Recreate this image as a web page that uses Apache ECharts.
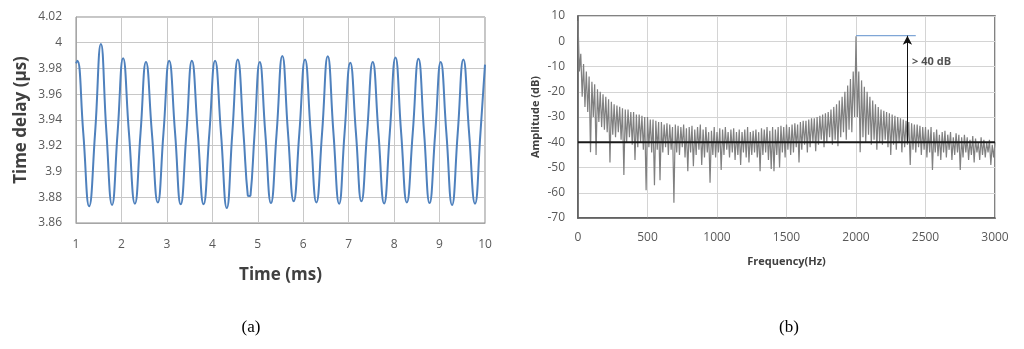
<!DOCTYPE html>
<html><head><meta charset="utf-8">
<script src="https://cdn.jsdelivr.net/npm/echarts@6/dist/echarts.min.js"></script>
<style>html,body{margin:0;padding:0;background:#fff}#c{width:1024px;height:349px}</style>
</head><body><div id="c"></div>
<script>
// ---- Panel (a): time delay vs time ----
const timeMs = [1.00,1.03,1.16,1.289,1.42,1.548,1.67,1.793,1.915,2.037,2.165,2.296,2.42,2.54,2.67,2.80,2.925,3.05,3.18,3.304,3.43,3.55,3.68,3.807,3.935,4.06,4.19,4.318,4.44,4.56,4.685,4.78,4.81,4.84,4.93,5.044,5.165,5.29,5.415,5.54,5.665,5.79,5.915,6.04,6.165,6.29,6.415,6.54,6.665,6.79,6.91,7.035,7.16,7.28,7.405,7.53,7.655,7.78,7.905,8.03,8.155,8.28,8.41,8.536,8.66,8.78,8.905,9.026,9.15,9.275,9.40,9.524,9.65,9.78,9.90,10.0];
const delayUs = [3.984,3.986,3.93,3.873,3.93,3.999,3.93,3.874,3.93,3.988,3.93,3.875,3.93,3.985,3.93,3.876,3.93,3.986,3.93,3.8745,3.93,3.986,3.93,3.8745,3.93,3.986,3.93,3.8716,3.93,3.987,3.93,3.8815,3.881,3.8815,3.93,3.985,3.93,3.8755,3.93,3.9898,3.93,3.8768,3.93,3.987,3.93,3.876,3.93,3.9895,3.93,3.875,3.93,3.9844,3.93,3.8768,3.93,3.985,3.93,3.8752,3.93,3.9885,3.93,3.876,3.93,3.9875,3.93,3.8755,3.93,3.985,3.93,3.874,3.93,3.987,3.93,3.875,3.93,3.983];

// ---- Panel (b): spectrum (comb: upper points at even 20 Hz steps, dips in between) ----
const freqStep = 20;
const specHi = [
 8,-5,-9,-12,-14,-16,-17,-19,-20,-21,
 -22,-23,-24,-25,-25.5,-26,-26.5,-27,-27,-28,
 -28,-29,-29,-29.5,-30,-30,-31,-31,-31.5,-32,
 -32,-33,-32.5,-33,-34,-33,-33.5,-34,-33,-34.5,
 -34,-33.5,-35,-34,-33,-35,-34,-36,-35.5,-34,
 -36,-34.5,-35,-34,-36,-35,-34.5,-36,-35,-36,
 -35,-34,-36,-35.5,-35,-36,-34.5,-35,-34,-35.5,
 -34,-35,-34,-33.5,-34,-33,-34,-33,-32.5,-33,
 -32,-31.5,-31.5,-31,-30.5,-30.5,-30,-29.5,-29,-28.5,
 -28,-27,-26,-25,-23.5,-22,-20,-17.5,-15,-12,
 2,-12,-15.5,-18,-20,-22,-23.5,-25,-26,-27,
 -27.5,-28,-28.5,-29,-29.5,-30,-30.5,-31,-31.5,-32,
 -32.5,-33,-33,-33.5,-34,-34,-35,-34,-36,-35,
 -37,-36,-35.5,-37,-36,-38,-36.5,-37,-38,-37,
 -38,-39,-37.5,-38.5,-40,-38,-39,-40,-39,-41,
 -40];
const specLo = [
 -12,-22,-26,-28,-44,-30,-45,-32,-34,-35,
 -36,-48,-37,-38,-36,-39,-53,-40,-38,-41,
 -47,-42,-40,-43,-59,-42,-44,-57,-43,-55,
 -44,-42,-45,-43,-64,-44,-45,-42,-46,-51.5,
 -44,-49.5,-45,-43,-49,-46,-44,-56,-45,-46,
 -44,-51,-45,-43,-46,-44,-47,-45,-49,-44,
 -46,-48,-45,-44,-46,-51.5,-45,-44,-47,-50.6,
 -51.5,-45,-50,-44,-46,-43,-45,-44,-42,-48,
 -43,-41,-44,-42,-40,-43.6,-41,-39,-42,-40,
 -38,-41,-39,-41.6,-38,-36,-39,-35,-36,-30,
 -30,-44,-38,-40,-37,-41,-39,-43,-40,-41,
 -39,-42,-45,-41,-43,-40,-44,-42,-41,-49,
 -43,-44,-42,-45,-43,-46,-44,-51,-44,-45.5,
 -47,-44,-46,-43,-47,-45,-44,-51,-46,-44,
 -47,-45,-48,-44,-47,-45,-46,-44,-49,-46];
const thresholdDb = -40;
const peakDb = 2.2;
const peakFreq = 2000;
const arrowFreq = 2370;
const blueEndFreq = 2430;
const noteFreq = 2400, noteDb = -8;
const noteText = '> 40 dB';

const seriesA = timeMs.map((t, i) => [t, delayUs[i]]);
const seriesB = [];
for (let i = 0; i < specHi.length; i++) {
  seriesB.push([i * freqStep, specHi[i]]);
  if (i < specLo.length) seriesB.push([i * freqStep + freqStep / 2, specLo[i]]);
}

const FONT = '"Open Sans","Noto Sans",sans-serif';
const chart = echarts.init(document.getElementById('c'), null, {renderer: 'canvas'});
chart.setOption({
  animation: false,
  grid: [
    {left: 76, top: 17, width: 409, height: 206, show: true, borderColor: '#8c8c8c', borderWidth: 1},
    {left: 578, top: 16, width: 417, height: 202, show: true, borderColor: '#5a5a5a', borderWidth: 1.5}
  ],
  xAxis: [
    {gridIndex: 0, type: 'value', min: 1, max: 10, interval: 1,
     axisLine: {show: true, onZero: false, lineStyle: {color: '#a6a6a6'}}, axisTick: {show: false},
     axisLabel: {color: '#595959', fontSize: 12, margin: 16, fontFamily: FONT},
     splitLine: {show: true, lineStyle: {color: '#c8c8c8', width: 1}},
     name: 'Time (ms)', nameLocation: 'middle', nameGap: 44,
     nameTextStyle: {fontWeight: 'bold', fontSize: 17, color: '#404040', fontFamily: FONT}},
    {gridIndex: 1, type: 'value', min: 0, max: 3000, interval: 500,
     axisLine: {show: true, onZero: false, lineStyle: {color: '#5a5a5a', width: 1.5}}, axisTick: {show: false},
     axisLabel: {color: '#595959', fontSize: 12, margin: 14, fontFamily: FONT, formatter: v => String(v)},
     splitLine: {show: true, lineStyle: {color: '#d4d4d4', width: 1}},
     name: 'Frequency(Hz)', nameLocation: 'middle', nameGap: 38,
     nameTextStyle: {fontWeight: 'bold', fontSize: 11, color: '#404040', fontFamily: FONT}}
  ],
  yAxis: [
    {gridIndex: 0, type: 'value', min: 3.86, max: 4.02, interval: 0.02,
     axisLine: {show: true, lineStyle: {color: '#a6a6a6'}}, axisTick: {show: false},
     axisLabel: {color: '#595959', fontSize: 12, margin: 14, fontFamily: FONT,
                 formatter: v => String(+v.toFixed(2))},
     splitLine: {show: true, lineStyle: {color: '#c8c8c8', width: 1}},
     name: 'Time delay (µs)', nameLocation: 'middle', nameGap: 46,
     nameTextStyle: {fontWeight: 'bold', fontSize: 17, color: '#404040', fontFamily: FONT}},
    {gridIndex: 1, type: 'value', min: -70, max: 10, interval: 10,
     axisLine: {show: true, lineStyle: {color: '#5a5a5a', width: 1.5}}, axisTick: {show: false},
     axisLabel: {color: '#595959', fontSize: 12, margin: 13, fontFamily: FONT},
     splitLine: {show: true, lineStyle: {color: '#d4d4d4', width: 1}},
     name: 'Amplitude (dB)', nameLocation: 'middle', nameGap: 37,
     nameTextStyle: {fontWeight: 'bold', fontSize: 11, color: '#404040', fontFamily: FONT}}
  ],
  series: [
    {type: 'line', xAxisIndex: 0, yAxisIndex: 0, data: seriesA, showSymbol: false,
     smooth: 0.5, lineStyle: {color: '#4f81bd', width: 2}},
    {type: 'line', xAxisIndex: 1, yAxisIndex: 1, data: seriesB, showSymbol: false,
     lineStyle: {color: '#808080', width: 1.2}, z: 2},
    {type: 'line', xAxisIndex: 1, yAxisIndex: 1, data: [[0, thresholdDb], [3000, thresholdDb]],
     showSymbol: false, lineStyle: {color: '#1a1a1a', width: 2}, z: 3,
     markLine: {silent: true, symbol: ['none', 'arrow'], symbolSize: [7, 9], label: {show: false},
       lineStyle: {color: '#111', width: 1, type: 'solid'},
       data: [[{coord: [arrowFreq, thresholdDb]}, {coord: [arrowFreq, peakDb]}]]}},
    {type: 'line', xAxisIndex: 1, yAxisIndex: 1, data: [[peakFreq, peakDb], [blueEndFreq, peakDb]],
     showSymbol: false, lineStyle: {color: '#7fa6d6', width: 1.2}, z: 4},
    {type: 'scatter', xAxisIndex: 1, yAxisIndex: 1, data: [[noteFreq, noteDb]], symbolSize: 1,
     itemStyle: {color: 'rgba(0,0,0,0)'}, silent: true,
     label: {show: true, position: 'right', distance: 0, formatter: noteText,
             fontWeight: 'bold', fontSize: 11, color: '#262626', fontFamily: FONT}}
  ],
  graphic: [
    {type: 'text', x: 251, y: 328, style: {text: '(a)', font: '17px "Liberation Serif"', fill: '#000', align: 'center', verticalAlign: 'middle'}},
    {type: 'text', x: 789, y: 328, style: {text: '(b)', font: '17px "Liberation Serif"', fill: '#000', align: 'center', verticalAlign: 'middle'}}
  ]
});
</script></body></html>
